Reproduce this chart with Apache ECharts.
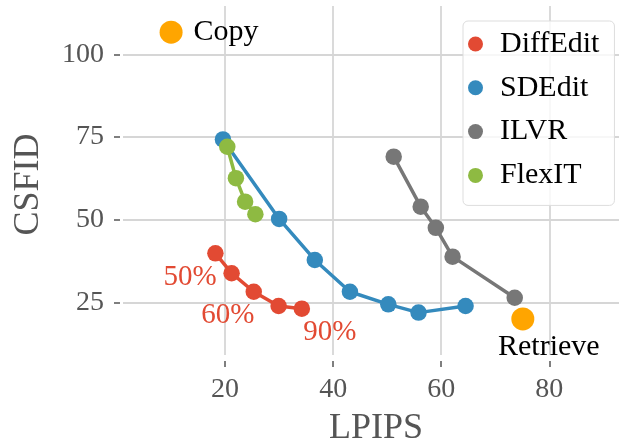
<!DOCTYPE html>
<html>
<head>
<meta charset="utf-8">
<script src="https://cdn.jsdelivr.net/npm/echarts@6/dist/echarts.min.js"></script>
<style>
html,body{margin:0;padding:0;background:#fff;}
#chart{width:619px;height:445px;}
</style>
</head>
<body>
<div id="chart"></div>
<script>
// ---- data ----
const diffEditX = [18.2, 21.2, 25.3, 29.9, 34.2];
const diffEditY = [39.9, 33.9, 28.3, 24.0, 23.2];
const sdEditX = [19.6, 30.0, 36.6, 43.1, 50.2, 55.8, 64.5];
const sdEditY = [74.3, 50.3, 37.9, 28.3, 24.5, 22.0, 24.0];
const ilvrX = [51.2, 56.2, 59.0, 62.1, 73.6];
const ilvrY = [69.1, 54.0, 47.6, 38.9, 26.5];
const flexitX = [20.4, 22.0, 23.7, 25.6];
const flexitY = [72.1, 62.6, 55.5, 51.7];
const copyPoint = [10.0, 106.7];
const retrievePoint = [75.1, 20.1];
const pctLabels = ['50%', '60%', '90%'];
const pctX = [13.5, 20.5, 39.4];
const pctY = [32.5, 21.3, 15.9];
const xTicks = [20, 40, 60, 80];
const yTicks = [25, 50, 75, 100];

const FONT = '"Liberation Serif", "Times New Roman", serif';
const C = { diff: '#E24A33', sd: '#348ABD', ilvr: '#777777', flex: '#8EBA42', orange: '#FFA500' };

function zip(xs, ys) { return xs.map((x, i) => [x, ys[i]]); }

function lineSeries(name, xs, ys, color) {
  return {
    name: name, type: 'line', data: zip(xs, ys),
    symbol: 'circle', symbolSize: 16.5, showSymbol: true,
    itemStyle: { color: color, opacity: 1 },
    lineStyle: { color: color, width: 3.5 },
    emphasis: { disabled: true },
    z: 3
  };
}

const chart = echarts.init(document.getElementById('chart'), null, { renderer: 'canvas' });
chart.setOption({
  animation: false,
  backgroundColor: '#fff',
  grid: { left: 123, right: 0, top: 6, bottom: 90, containLabel: false, outerBoundsMode: 'none' },
  xAxis: {
    type: 'value', min: 1.1, max: 92.9, offset: 6,
    name: 'LPIPS', nameLocation: 'middle', nameGap: 50,
    nameTextStyle: { fontFamily: FONT, fontSize: 36, color: '#555', padding: [0, 0, 0, 10] },
    axisLine: { show: false },
    axisTick: { show: true, length: 6, customValues: xTicks, lineStyle: { color: '#555', width: 1.5 } },
    axisLabel: { customValues: xTicks, fontFamily: FONT, fontSize: 28, color: '#555', margin: 15 },
    splitLine: { show: true, lineStyle: { color: '#d6d6d6', width: 1.8 } }
  },
  yAxis: {
    type: 'value', min: 9.2, max: 114.6, offset: 3,
    name: 'CSFID', nameLocation: 'middle', nameGap: 73,
    nameTextStyle: { fontFamily: FONT, fontSize: 36, color: '#555', padding: [0, 8, 0, 0] },
    axisLine: { show: false },
    axisTick: { show: true, length: 6, customValues: yTicks, lineStyle: { color: '#555', width: 1.5 } },
    axisLabel: { customValues: yTicks, fontFamily: FONT, fontSize: 28, color: '#555', margin: 16 },
    splitLine: { show: true, lineStyle: { color: '#d6d6d6', width: 1.8 } }
  },
  legend: {
    data: ['DiffEdit', 'SDEdit', 'ILVR', 'FlexIT'],
    orient: 'vertical', left: 463, top: 21,
    icon: 'circle', itemWidth: 15, itemHeight: 15, itemGap: 13.8,
    padding: [8, 15, 15, 5],
    backgroundColor: 'rgba(255,255,255,0.8)',
    borderColor: '#dddddd', borderWidth: 1, borderRadius: 5,
    textStyle: { fontFamily: FONT, fontSize: 30, color: '#000', padding: [0, 0, 0, 12] },
    selectedMode: false
  },
  series: [
    lineSeries('DiffEdit', diffEditX, diffEditY, C.diff),
    lineSeries('SDEdit', sdEditX, sdEditY, C.sd),
    lineSeries('ILVR', ilvrX, ilvrY, C.ilvr),
    lineSeries('FlexIT', flexitX, flexitY, C.flex),
    {
      name: 'Copy', type: 'scatter', data: [copyPoint], symbolSize: 23,
      itemStyle: { color: C.orange, opacity: 1 }, z: 4,
      label: { show: true, position: 'right', distance: 11, formatter: 'Copy',
               fontFamily: FONT, fontSize: 30, color: '#000' }
    },
    {
      name: 'Retrieve', type: 'scatter', data: [retrievePoint], symbolSize: 23,
      itemStyle: { color: C.orange, opacity: 1 }, z: 4,
      label: { show: true, position: 'bottom', distance: 2, offset: [26, 0], formatter: 'Retrieve',
               fontFamily: FONT, fontSize: 30, color: '#000' }
    },
    {
      name: 'pct', type: 'scatter', symbolSize: 0,
      itemStyle: { opacity: 1 },
      data: pctLabels.map((t, i) => ({ name: t, value: [pctX[i], pctY[i]] })),
      label: { show: true, position: 'inside', formatter: p => p.name,
               fontFamily: FONT, fontSize: 29, color: C.diff },
      z: 5
    }
  ]
});
</script>
</body>
</html>
